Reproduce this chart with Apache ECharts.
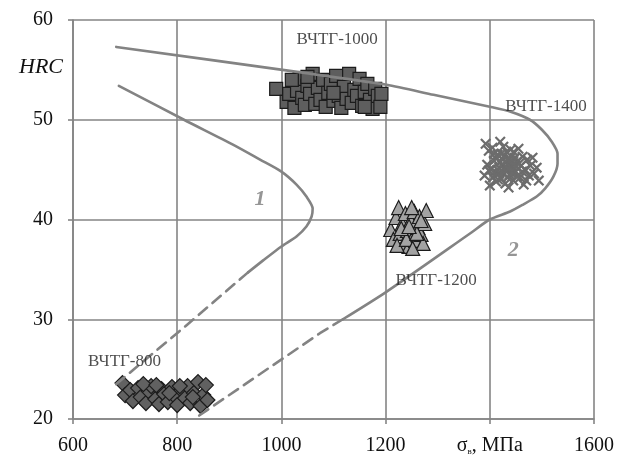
<!DOCTYPE html>
<html>
<head>
<meta charset="utf-8">
<script src="https://cdn.jsdelivr.net/npm/echarts@6/dist/echarts.min.js"></script>
<style>
  html, body { margin: 0; padding: 0; background: #fff; }
  #chart { width: 630px; height: 464px; }
</style>
</head>
<body>
<div id="chart"></div>
<script>
// Hardness HRC versus tensile strength (σв, MPa) for ВЧТГ cast-iron grades

// Axis ranges
const xTicks = [600, 800, 1000, 1200, 1400, 1600];
const yTicks = [20, 30, 40, 50, 60];

// Boundary curve 2 (outer): solid part, then dashed tail
const curve2Solid = [[683, 57.3], [1030, 54.8], [1202, 53.5], [1292, 52.5], [1400, 51.3], [1440, 50.8],
  [1477, 50.0], [1500, 49.0], [1519, 47.8], [1530, 46.6], [1530, 45.6], [1522, 44.3], [1506, 43.1],
  [1490, 42.3], [1464, 41.5], [1439, 40.8], [1400, 40.0], [1362, 38.6], [1200, 32.7], [1118, 30.0]];
const curve2Dash = [[1118, 30.0], [1074, 28.6], [838, 20.2]];

// Boundary curve 1 (inner): solid part, then dashed tail
const curve1Solid = [[688, 53.4], [813, 50.0], [907, 47.5], [959, 46.0], [1000, 44.8], [1029, 43.5],
  [1048, 42.3], [1060, 41.1], [1058, 40.3], [1048, 39.3], [1029, 38.3], [1000, 37.3], [965, 35.9], [936, 34.7]];
const curve1Dash = [[936, 34.7], [818, 29.4], [683, 23.5]];

// ВЧТГ-800 measurements
const grade800 = [[695, 23.6], [700, 22.4], [710, 22.9], [715, 21.8], [725, 23.1], [730, 22.2], [740, 21.6],
  [745, 22.8], [750, 23.3], [758, 22.0], [765, 21.5], [770, 23.0], [775, 22.5], [782, 21.7], [790, 23.2],
  [795, 22.3], [800, 21.4], [808, 22.9], [815, 22.1], [820, 23.3], [825, 21.6], [832, 22.6], [840, 23.7],
  [845, 21.3], [850, 22.4], [855, 23.4], [858, 21.9], [735, 23.5], [760, 23.4], [805, 23.3], [785, 22.6], [830, 22.2]];

// ВЧТГ-1000 measurements
const grade1000 = [[990, 53.1], [1010, 51.8], [1015, 52.6], [1025, 51.2], [1030, 52.9], [1035, 54.1], [1040, 52.2],
  [1045, 51.5], [1050, 53.4], [1055, 52.6], [1060, 54.6], [1065, 51.6], [1070, 53.2], [1075, 52.0], [1080, 54.0],
  [1085, 51.3], [1090, 52.7], [1095, 53.6], [1100, 51.9], [1105, 54.4], [1110, 52.4], [1115, 51.2], [1120, 53.3],
  [1125, 52.1], [1130, 54.6], [1135, 51.7], [1140, 53.0], [1145, 52.4], [1150, 54.1], [1155, 51.4], [1160, 52.8],
  [1165, 53.6], [1170, 52.0], [1175, 51.1], [1180, 53.1], [1185, 52.4], [1190, 51.3], [1192, 52.6], [1050, 54.3],
  [1020, 54.0], [1100, 52.7], [1160, 51.3]];

// ВЧТГ-1200 measurements
const grade1200 = [[1210, 39.0], [1215, 38.0], [1220, 40.2], [1225, 41.2], [1228, 38.6], [1232, 39.6], [1235, 37.6],
  [1238, 40.6], [1242, 38.9], [1245, 37.3], [1248, 39.9], [1252, 38.2], [1255, 40.8], [1258, 37.9], [1262, 39.2],
  [1265, 40.3], [1268, 38.5], [1272, 37.6], [1275, 39.6], [1278, 40.9], [1222, 37.4], [1250, 41.2], [1240, 38.0],
  [1260, 38.6], [1230, 39.1], [1245, 39.3], [1268, 39.9], [1252, 37.1]];

// ВЧТГ-1400 measurements
const grade1400 = [[1392, 47.6], [1398, 46.9], [1395, 45.5], [1390, 44.4], [1400, 43.4], [1405, 47.2], [1408, 45.9],
  [1410, 44.8], [1412, 43.8], [1415, 46.5], [1418, 45.2], [1420, 47.8], [1422, 44.1], [1425, 46.0], [1428, 45.0],
  [1430, 43.6], [1432, 46.8], [1435, 45.6], [1438, 44.5], [1440, 47.0], [1442, 45.3], [1445, 43.9], [1448, 46.2],
  [1450, 44.8], [1452, 45.8], [1455, 47.1], [1458, 44.2], [1460, 45.4], [1463, 46.3], [1465, 43.5], [1468, 45.0],
  [1472, 46.0], [1475, 44.4], [1478, 45.4], [1482, 46.2], [1485, 44.6], [1490, 45.2], [1494, 43.9], [1416, 44.0],
  [1426, 47.3], [1436, 43.2], [1446, 46.8], [1402, 45.0], [1432, 44.8], [1444, 45.0], [1456, 45.6], [1470, 43.9],
  [1412, 46.1], [1418, 44.6], [1424, 45.4], [1428, 46.4], [1434, 44.2], [1438, 46.1], [1442, 44.6], [1447, 45.5],
  [1452, 44.3], [1420, 45.8], [1430, 45.2], [1440, 45.9], [1462, 44.8], [1406, 44.2], [1398, 44.9],
  [1415, 45.0], [1425, 44.7], [1435, 45.1], [1445, 45.8], [1422, 46.6], [1433, 46.0], [1408, 46.6], [1450, 45.3]];

// Group names and curve numbers, with the data points they are anchored at
const gradeNames = ['ВЧТГ-800', 'ВЧТГ-1000', 'ВЧТГ-1200', 'ВЧТГ-1400'];
const gradeNameAt = [[699, 25.8], [1107, 58.0], [1297, 33.9], [1508, 51.3]];
const curveNames = ['1', '2'];
const curveNameAt = [[959, 42.0], [1445, 36.9]];

const serif = '"Liberation Serif", "DejaVu Serif", serif';
const gridColor = '#858585';
const curveColor = '#838383';
const edge = '#1c1c1c';

const crossPath = 'path://M0,1.4 L1.4,0 L5,3.6 L8.6,0 L10,1.4 L6.4,5 L10,8.6 L8.6,10 L5,6.4 L1.4,10 L0,8.6 L3.6,5 Z';

function curve(data, dashed) {
  return {
    type: 'line', data: data, showSymbol: false, symbol: 'none', smooth: dashed ? false : 0.25,
    z: 5, silent: true,
    lineStyle: { color: curveColor, width: 2.6, type: dashed ? [11, 7] : 'solid', join: 'round', cap: 'round' }
  };
}

const chart = echarts.init(document.getElementById('chart'), null, { renderer: 'canvas' });
chart.setOption({
  animation: false,
  backgroundColor: '#fff',
  title: {
    text: 'HRC', left: 14, top: 51,
    textStyle: { fontFamily: serif, fontStyle: 'italic', fontWeight: 'normal', fontSize: 22, color: '#111' }
  },
  grid: { left: 73, right: 36, top: 20, bottom: 45 },
  xAxis: {
    type: 'value', min: xTicks[0], max: xTicks[xTicks.length - 1], interval: 200,
    axisLine: { show: true, lineStyle: { color: gridColor, width: 1.6 } },
    axisTick: { show: true, length: 5, lineStyle: { color: gridColor, width: 1.6 } },
    splitLine: { show: true, lineStyle: { color: gridColor, width: 1.6 } },
    axisLabel: {
      margin: 17, color: '#111', fontFamily: serif, fontSize: 20,
      formatter: function (v) { return v === 1400 ? '{s|σ}{sub|в}{s|, МПа}' : String(v); },
      rich: {
        s: { fontFamily: serif, fontSize: 20, color: '#111' },
        sub: { fontFamily: serif, fontSize: 9, color: '#111', verticalAlign: 'bottom', padding: [8, 0, 0, 0] }
      }
    }
  },
  yAxis: {
    type: 'value', min: yTicks[0], max: yTicks[yTicks.length - 1], interval: 10,
    axisLine: { show: true, lineStyle: { color: gridColor, width: 1.6 } },
    axisTick: { show: true, length: 5, lineStyle: { color: gridColor, width: 1.6 } },
    splitLine: { show: true, lineStyle: { color: gridColor, width: 1.6 } },
    axisLabel: { margin: 20, color: '#111', fontFamily: serif, fontSize: 20 }
  },
  series: [
    {
      type: 'scatter', data: grade800, symbol: 'diamond', symbolSize: 15, z: 3,
      itemStyle: { color: '#616161', borderColor: edge, borderWidth: 1.2, opacity: 1 }
    },
    {
      type: 'scatter', data: grade1000, symbol: 'rect', symbolSize: 13, z: 3,
      itemStyle: { color: '#5e5e5e', borderColor: edge, borderWidth: 1.2, opacity: 1 }
    },
    {
      type: 'scatter', data: grade1200, symbol: 'triangle', symbolSize: 14, z: 3,
      itemStyle: { color: '#a3a3a3', borderColor: edge, borderWidth: 1.2, opacity: 1 }
    },
    {
      type: 'scatter', data: grade1400, symbol: crossPath, symbolSize: 11, z: 3,
      itemStyle: { color: '#6c6c6c', opacity: 1 }
    },
    curve(curve2Solid, false),
    curve(curve2Dash, true),
    curve(curve1Solid, false),
    curve(curve1Dash, true),
    {
      type: 'scatter', symbolSize: 0, z: 6, silent: true,
      data: gradeNames.map(function (n, i) { return { value: gradeNameAt[i], name: n }; }),
      label: {
        show: true, position: 'inside', formatter: '{b}',
        fontFamily: serif, fontSize: 17, color: '#222'
      }
    },
    {
      type: 'scatter', symbolSize: 0, z: 6, silent: true,
      data: curveNames.map(function (n, i) { return { value: curveNameAt[i], name: n }; }),
      label: {
        show: true, position: 'inside', formatter: '{b}',
        fontFamily: serif, fontSize: 22, fontStyle: 'italic', fontWeight: 'bold', color: '#7a7a7a'
      }
    }
  ]
});
</script>
</body>
</html>
